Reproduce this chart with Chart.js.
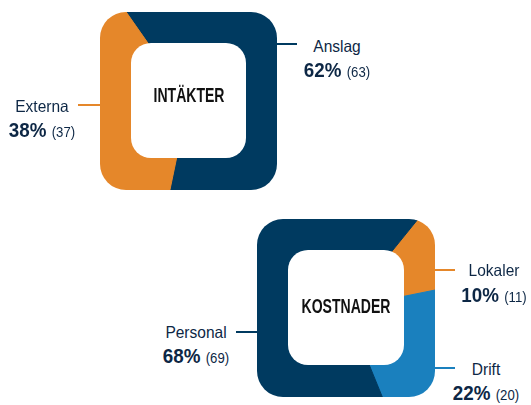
<!DOCTYPE html>
<html>
<head>
<meta charset="utf-8">
<script src="https://cdn.jsdelivr.net/npm/chart.js@4.4.1/dist/chart.umd.min.js"></script>
<style>
  body { margin: 0; width: 531px; height: 405px; background: #fff; position: relative; overflow: hidden;
         font-family: "Liberation Sans", Arial, sans-serif; color: #0d2745; }
  .box { position: absolute; }
  .title { position: absolute; font-weight: bold; color: #111; font-size: 19.5px; line-height: 1;
           transform: translate(-50%, -50%) scaleX(0.72); white-space: nowrap; }
  .line { position: absolute; transform: translateX(-50%) scaleX(0.94); white-space: nowrap; line-height: 1; }
  .name { font-size: 16.5px; }
  .pct { font-size: 20px; font-weight: bold; }
  .amt { font-size: 14px; }
  .lead { position: absolute; height: 2px; }
</style>
</head>
<body>
<div class="box" id="incBox" style="left:100px;top:12px;width:177px;height:178px"><canvas id="income"></canvas></div>
<div class="box" id="costBox" style="left:257px;top:219px;width:178px;height:178px"><canvas id="costs"></canvas></div>
<div class="title" style="left:189px;top:96px">INTÄKTER</div>
<div class="title" style="left:346px;top:307px">KOSTNADER</div>

<script>
// data
var incomeLabels = ['Anslag', 'Externa'];
var incomePercent = [62, 38];
var incomeAmount = [63, 37];
var incomeShare = [63, 37];          // share of the ring as drawn

var costLabels = ['Lokaler', 'Drift', 'Personal'];
var costPercent = [10, 22, 68];
var costAmount = [11, 20, 69];
var costShare = [11, 22, 67];        // share of the ring as drawn

var navy = '#003a60';
var orange = '#e5872a';
var blue = '#1a80be';

// clip the pie to a rounded square and punch out the white middle
var ringClip = {
    id: 'ringClip',
    beforeDatasetsDraw: function(chart) {
        var ctx = chart.ctx;
        ctx.save();
        ctx.beginPath();
        ctx.roundRect(0, 0, chart.width, chart.height, 26);
        ctx.clip();
    },
    afterDatasetsDraw: function(chart) {
        var ctx = chart.ctx;
        ctx.restore();
        ctx.fillStyle = '#fff';
        ctx.beginPath();
        ctx.roundRect(31, 31, chart.width - 62, chart.height - 63, 20);
        ctx.fill();
    }
};

function ring(id, labels, values, colors, rotation) {
    return new Chart(document.getElementById(id), {
        type: 'pie',
        data: {
            labels: labels,
            datasets: [{
                data: values,
                backgroundColor: colors,
                borderColor: colors,
                borderWidth: 1,
                radius: '160%'
            }]
        },
        options: {
            responsive: true,
            maintainAspectRatio: false,
            animation: false,
            rotation: rotation,
            layout: { padding: 0 },
            plugins: { legend: { display: false }, tooltip: { enabled: false } }
        },
        plugins: [ringClip]
    });
}

ring('income', incomeLabels, incomeShare, [navy, orange], -35);
ring('costs', costLabels, costShare, [orange, blue, navy], 39);

// labels with leader lines
function addText(html, cx, base, size) {
    var d = document.createElement('div');
    d.className = 'line';
    d.innerHTML = html;
    d.style.fontSize = size + 'px';
    d.style.left = cx + 'px';
    d.style.top = (base - 0.85 * size) + 'px';
    document.body.appendChild(d);
}

function addLead(x1, x2, y, color) {
    var d = document.createElement('div');
    d.className = 'lead';
    d.style.left = x1 + 'px';
    d.style.width = (x2 - x1) + 'px';
    d.style.top = (y - 1) + 'px';
    d.style.background = color;
    document.body.appendChild(d);
}

function label(name, pct, amt, cx, nameBase, pctBase) {
    addText('<span class="name">' + name + '</span>', cx, nameBase, 16.5);
    addText('<span class="pct">' + pct + '%</span> <span class="amt">(' + amt + ')</span>', cx, pctBase, 20);
}

label(incomeLabels[0], incomePercent[0], incomeAmount[0], 337, 52, 77);
label(incomeLabels[1], incomePercent[1], incomeAmount[1], 42, 112, 137);
label(costLabels[0], costPercent[0], costAmount[0], 494, 276, 302);
label(costLabels[1], costPercent[1], costAmount[1], 486, 375, 400);
label(costLabels[2], costPercent[2], costAmount[2], 196, 338, 363);

addLead(277, 297, 44, navy);
addLead(78, 100, 105, orange);
addLead(236, 257, 332, navy);
addLead(435, 455, 270, orange);
addLead(435, 455, 368, blue);
</script>
</body>
</html>
